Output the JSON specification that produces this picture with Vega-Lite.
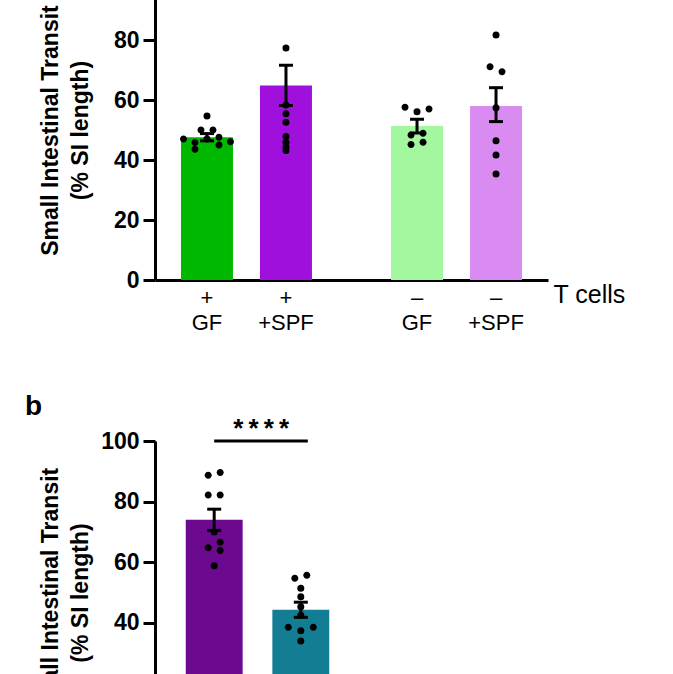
{
  "$schema": "https://vega.github.io/schema/vega-lite/v6.json",
  "background": "white",
  "padding": {"left": 25, "top": -31, "right": 10, "bottom": 0},
  "config": {
    "view": {"stroke": null},
    "font": "Liberation Sans",
    "axis": {
      "domainColor": "black", "domainWidth": 3,
      "tickColor": "black", "tickWidth": 3, "tickSize": 12,
      "labelFontSize": 23, "labelFontWeight": "bold", "labelColor": "black", "labelPadding": 4,
      "titleFontSize": 23, "titleFontWeight": "bold", "titleColor": "black", "titleLineHeight": 30,
      "grid": false
    },
    "point": {"filled": true, "color": "black", "opacity": 1, "size": 49, "strokeWidth": 0}
  },
  "resolve": {"scale": {"color": "independent"}},
  "datasets": {
    "a_bars": [
      {"tcell": "+", "microbe": "GF", "group": "+ GF", "mean": 47.6, "lo": 46.4, "hi": 48.8},
      {"tcell": "+", "microbe": "+SPF", "group": "+ +SPF", "mean": 64.8, "lo": 58.2, "hi": 71.6},
      {"tcell": "–", "microbe": "GF", "group": "– GF", "mean": 51.3, "lo": 49.0, "hi": 53.6},
      {"tcell": "–", "microbe": "+SPF", "group": "– +SPF", "mean": 58.0, "lo": 52.8, "hi": 64.1}
    ],
    "a_points": [
      {"tcell": "+", "microbe": "GF", "value": 47.0, "swarm": -4},
      {"tcell": "+", "microbe": "GF", "value": 45.8, "swarm": -2},
      {"tcell": "+", "microbe": "GF", "value": 43.6, "swarm": -2},
      {"tcell": "+", "microbe": "GF", "value": 50.0, "swarm": -1},
      {"tcell": "+", "microbe": "GF", "value": 54.7, "swarm": 0},
      {"tcell": "+", "microbe": "GF", "value": 47.0, "swarm": 0},
      {"tcell": "+", "microbe": "GF", "value": 50.0, "swarm": 1},
      {"tcell": "+", "microbe": "GF", "value": 47.6, "swarm": 2},
      {"tcell": "+", "microbe": "GF", "value": 45.0, "swarm": 2},
      {"tcell": "+", "microbe": "GF", "value": 46.1, "swarm": 4},
      {"tcell": "+", "microbe": "+SPF", "value": 77.3, "swarm": 0},
      {"tcell": "+", "microbe": "+SPF", "value": 58.3, "swarm": 0},
      {"tcell": "+", "microbe": "+SPF", "value": 55.4, "swarm": 0},
      {"tcell": "+", "microbe": "+SPF", "value": 52.6, "swarm": 0},
      {"tcell": "+", "microbe": "+SPF", "value": 47.8, "swarm": 0},
      {"tcell": "+", "microbe": "+SPF", "value": 45.9, "swarm": 0},
      {"tcell": "+", "microbe": "+SPF", "value": 44.3, "swarm": 0},
      {"tcell": "+", "microbe": "+SPF", "value": 43.2, "swarm": 0},
      {"tcell": "–", "microbe": "GF", "value": 57.6, "swarm": -2},
      {"tcell": "–", "microbe": "GF", "value": 56.1, "swarm": 0},
      {"tcell": "–", "microbe": "GF", "value": 57.0, "swarm": 2},
      {"tcell": "–", "microbe": "GF", "value": 48.3, "swarm": -1},
      {"tcell": "–", "microbe": "GF", "value": 48.9, "swarm": 1},
      {"tcell": "–", "microbe": "GF", "value": 45.2, "swarm": -1},
      {"tcell": "–", "microbe": "GF", "value": 45.9, "swarm": 1},
      {"tcell": "–", "microbe": "+SPF", "value": 81.7, "swarm": 0},
      {"tcell": "–", "microbe": "+SPF", "value": 71.1, "swarm": -1},
      {"tcell": "–", "microbe": "+SPF", "value": 69.4, "swarm": 1},
      {"tcell": "–", "microbe": "+SPF", "value": 57.4, "swarm": 0},
      {"tcell": "–", "microbe": "+SPF", "value": 46.4, "swarm": 0},
      {"tcell": "–", "microbe": "+SPF", "value": 41.7, "swarm": 0},
      {"tcell": "–", "microbe": "+SPF", "value": 35.3, "swarm": 0}
    ],
    "b_bars": [
      {"grp": "Group 1", "mean": 74.0, "lo": 70.5, "hi": 77.5},
      {"grp": "Group 2", "mean": 44.3, "lo": 41.8, "hi": 46.8}
    ],
    "b_points": [
      {"grp": "Group 1", "value": 89.6, "swarm": 1},
      {"grp": "Group 1", "value": 88.7, "swarm": -1},
      {"grp": "Group 1", "value": 82.2, "swarm": -1},
      {"grp": "Group 1", "value": 82.2, "swarm": 1},
      {"grp": "Group 1", "value": 70.0, "swarm": 0},
      {"grp": "Group 1", "value": 66.6, "swarm": 1},
      {"grp": "Group 1", "value": 64.8, "swarm": -1},
      {"grp": "Group 1", "value": 63.9, "swarm": 1},
      {"grp": "Group 1", "value": 58.8, "swarm": 0},
      {"grp": "Group 2", "value": 55.7, "swarm": 1},
      {"grp": "Group 2", "value": 54.7, "swarm": -1},
      {"grp": "Group 2", "value": 51.4, "swarm": 0},
      {"grp": "Group 2", "value": 48.6, "swarm": 0},
      {"grp": "Group 2", "value": 45.3, "swarm": 0},
      {"grp": "Group 2", "value": 42.5, "swarm": 0},
      {"grp": "Group 2", "value": 38.5, "swarm": -2},
      {"grp": "Group 2", "value": 38.5, "swarm": 2},
      {"grp": "Group 2", "value": 37.4, "swarm": 0},
      {"grp": "Group 2", "value": 34.0, "swarm": 0}
    ]
  },
  "bounds": "flush",
  "spacing": 161,
  "vconcat": [
    {
      "width": 393,
      "height": 300,
      "layer": [
        {
          "data": {"name": "a_bars"},
          "mark": {"type": "bar"},
          "encoding": {
            "x": {"field": "tcell", "type": "nominal", "sort": ["+", "–"],
                  "scale": {"paddingInner": 0.25, "paddingOuter": 0.0605},
                  "axis": {"labels": false, "ticks": false, "title": "T cells", "titleX": 398, "titleY": 22,
                           "titleAlign": "left", "titleBaseline": "alphabetic", "titleAngle": 0,
                           "titleFontWeight": "normal", "titleFontSize": 25}},
            "xOffset": {"field": "microbe", "type": "nominal", "sort": ["GF", "+SPF"],
                        "scale": {"paddingInner": 0.342, "paddingOuter": 0.168}},
            "y": {"field": "mean", "type": "quantitative", "scale": {"domain": [0, 100]},
                  "axis": {"values": [0, 20, 40, 60, 80, 100], "title": ["Small Intestinal Transit", "(% SI length)"], "titlePadding": 8}},
            "color": {"field": "group", "type": "nominal",
                      "scale": {"domain": ["+ GF", "+ +SPF", "– GF", "– +SPF"],
                                "range": ["#00b800", "#a010dc", "#a2f79f", "#d98bf2"]},
                      "legend": null}
          }
        },
        {
          "data": {"name": "a_points"},
          "encoding": {
            "x": {"field": "tcell", "type": "nominal", "sort": ["+", "–"]},
            "xOffset": {"field": "microbe", "type": "nominal", "sort": ["GF", "+SPF"]},
            "y": {"field": "value", "type": "quantitative"}
          },
          "layer": [
            {"transform": [{"filter": "datum.swarm == -4"}], "mark": {"type": "point", "shape": "M-5.714,0A1,1,0,1,1,-7.714,0A1,1,0,1,1,-5.714,0Z"}},
            {"transform": [{"filter": "datum.swarm == -2"}], "mark": {"type": "point", "shape": "M-2.429,0A1,1,0,1,1,-4.429,0A1,1,0,1,1,-2.429,0Z"}},
            {"transform": [{"filter": "datum.swarm == -1"}], "mark": {"type": "point", "shape": "M-0.714,0A1,1,0,1,1,-2.714,0A1,1,0,1,1,-0.714,0Z"}},
            {"transform": [{"filter": "datum.swarm == 0"}], "mark": {"type": "point", "shape": "circle"}},
            {"transform": [{"filter": "datum.swarm == 1"}], "mark": {"type": "point", "shape": "M2.714,0A1,1,0,1,1,0.714,0A1,1,0,1,1,2.714,0Z"}},
            {"transform": [{"filter": "datum.swarm == 2"}], "mark": {"type": "point", "shape": "M4.429,0A1,1,0,1,1,2.429,0A1,1,0,1,1,4.429,0Z"}},
            {"transform": [{"filter": "datum.swarm == 4"}], "mark": {"type": "point", "shape": "M7.714,0A1,1,0,1,1,5.714,0A1,1,0,1,1,7.714,0Z"}}
          ]
        },
        {
          "data": {"name": "a_bars"},
          "mark": {"type": "rule", "color": "black", "strokeWidth": 3},
          "encoding": {
            "x": {"field": "tcell", "type": "nominal", "sort": ["+", "–"]},
            "xOffset": {"field": "microbe", "type": "nominal", "sort": ["GF", "+SPF"]},
            "y": {"field": "lo", "type": "quantitative"},
            "y2": {"field": "hi"}
          }
        },
        {
          "data": {"name": "a_bars"},
          "mark": {"type": "tick", "color": "black", "thickness": 3, "size": 14, "opacity": 1},
          "encoding": {
            "x": {"field": "tcell", "type": "nominal", "sort": ["+", "–"]},
            "xOffset": {"field": "microbe", "type": "nominal", "sort": ["GF", "+SPF"]},
            "y": {"field": "hi", "type": "quantitative"}
          }
        },
        {
          "data": {"name": "a_bars"},
          "mark": {"type": "tick", "color": "black", "thickness": 3, "size": 14, "opacity": 1},
          "encoding": {
            "x": {"field": "tcell", "type": "nominal", "sort": ["+", "–"]},
            "xOffset": {"field": "microbe", "type": "nominal", "sort": ["GF", "+SPF"]},
            "y": {"field": "lo", "type": "quantitative"}
          }
        },
        {
          "data": {"name": "a_bars"},
          "mark": {"type": "text", "fontSize": 22, "baseline": "alphabetic", "dy": 25, "color": "black"},
          "encoding": {
            "x": {"field": "tcell", "type": "nominal", "sort": ["+", "–"]},
            "xOffset": {"field": "microbe", "type": "nominal", "sort": ["GF", "+SPF"]},
            "y": {"datum": 0},
            "text": {"field": "tcell"}
          }
        },
        {
          "data": {"name": "a_bars"},
          "mark": {"type": "text", "fontSize": 22, "baseline": "alphabetic", "dy": 50, "color": "black"},
          "encoding": {
            "x": {"field": "tcell", "type": "nominal", "sort": ["+", "–"]},
            "xOffset": {"field": "microbe", "type": "nominal", "sort": ["GF", "+SPF"]},
            "y": {"datum": 0},
            "text": {"field": "microbe"}
          }
        }
      ]
    },
    {
      "width": 205,
      "height": 303,
      "title": {"text": "b", "anchor": "start", "frame": "group", "dx": -130, "offset": -5, "fontSize": 28, "fontWeight": "bold", "color": "black"},
      "layer": [
        {
          "data": {"name": "b_bars"},
          "mark": {"type": "bar"},
          "encoding": {
            "x": {"field": "grp", "type": "nominal", "scale": {"paddingInner": 0.343, "paddingOuter": 0.355},
                  "axis": {"labels": false, "ticks": false, "title": null}},
            "y": {"field": "mean", "type": "quantitative", "scale": {"domain": [0, 100]},
                  "axis": {"values": [0, 20, 40, 60, 80, 100], "title": ["Small Intestinal Transit", "(% SI length)"], "titlePadding": 8}},
            "color": {"field": "grp", "type": "nominal",
                      "scale": {"domain": ["Group 1", "Group 2"], "range": ["#6b0a8f", "#127d93"]},
                      "legend": null}
          }
        },
        {
          "data": {"name": "b_points"},
          "encoding": {
            "x": {"field": "grp", "type": "nominal"},
            "y": {"field": "value", "type": "quantitative"}
          },
          "layer": [
            {"transform": [{"filter": "datum.swarm == -2"}], "mark": {"type": "point", "shape": "M-2.571,0A1,1,0,1,1,-4.571,0A1,1,0,1,1,-2.571,0Z"}},
            {"transform": [{"filter": "datum.swarm == -1"}], "mark": {"type": "point", "shape": "M-0.714,0A1,1,0,1,1,-2.714,0A1,1,0,1,1,-0.714,0Z"}},
            {"transform": [{"filter": "datum.swarm == 0"}], "mark": {"type": "point", "shape": "circle"}},
            {"transform": [{"filter": "datum.swarm == 1"}], "mark": {"type": "point", "shape": "M2.714,0A1,1,0,1,1,0.714,0A1,1,0,1,1,2.714,0Z"}},
            {"transform": [{"filter": "datum.swarm == 2"}], "mark": {"type": "point", "shape": "M4.571,0A1,1,0,1,1,2.571,0A1,1,0,1,1,4.571,0Z"}}
          ]
        },
        {
          "data": {"name": "b_bars"},
          "mark": {"type": "rule", "color": "black", "strokeWidth": 3},
          "encoding": {
            "x": {"field": "grp", "type": "nominal"},
            "y": {"field": "lo", "type": "quantitative"},
            "y2": {"field": "hi"}
          }
        },
        {
          "data": {"name": "b_bars"},
          "mark": {"type": "tick", "color": "black", "thickness": 3, "size": 14, "opacity": 1},
          "encoding": {
            "x": {"field": "grp", "type": "nominal"},
            "y": {"field": "hi", "type": "quantitative"}
          }
        },
        {
          "data": {"name": "b_bars"},
          "mark": {"type": "tick", "color": "black", "thickness": 3, "size": 14, "opacity": 1},
          "encoding": {
            "x": {"field": "grp", "type": "nominal"},
            "y": {"field": "lo", "type": "quantitative"}
          }
        },
        {
          "data": {"values": [{"comparison": "Group 1 vs Group 2", "label": "*\u2009*\u2009*\u2009*"}]},
          "mark": {"type": "rule", "color": "black", "strokeWidth": 3, "x2Offset": 7},
          "encoding": {
            "x": {"datum": "Group 1"},
            "x2": {"datum": "Group 2"},
            "y": {"datum": 100}
          }
        },
        {
          "data": {"values": [{"comparison": "Group 1 vs Group 2", "label": "*\u2009*\u2009*\u2009*"}]},
          "mark": {"type": "text", "fontSize": 26, "fontWeight": "bold", "baseline": "alphabetic", "dx": 47, "dy": -4, "color": "black"},
          "encoding": {
            "x": {"datum": "Group 1"},
            "y": {"datum": 100},
            "text": {"field": "label"}
          }
        }
      ]
    }
  ]
}
